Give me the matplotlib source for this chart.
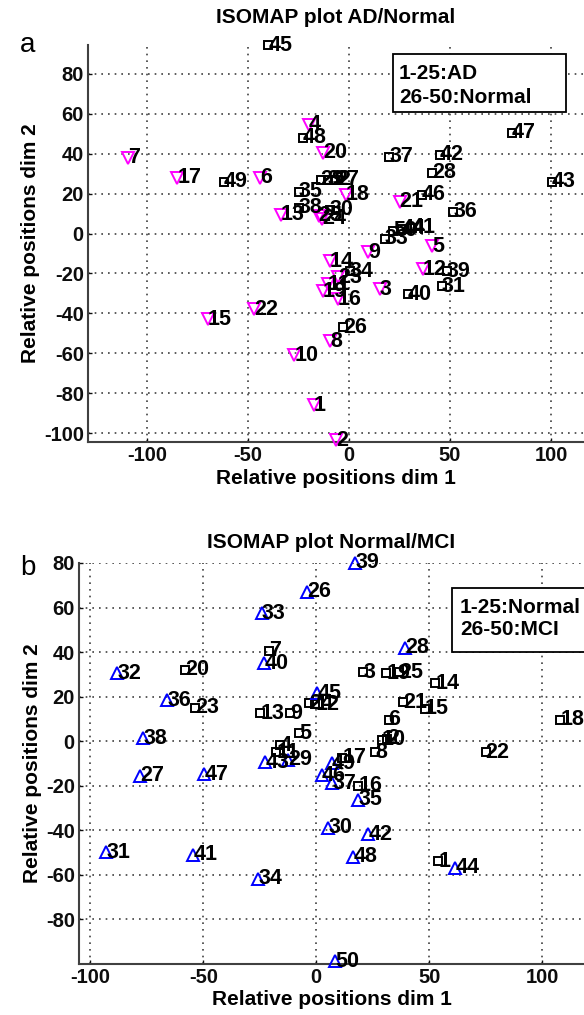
import numpy as np
import matplotlib
matplotlib.use("Agg")
import matplotlib.pyplot as plt
from matplotlib.patches import Rectangle

plt.rcParams["font.family"] = ["Liberation Sans", "DejaVu Sans"]
plt.rcParams["axes.unicode_minus"] = False

# panel a: AD (1-25) / Normal (26-50)
a_ad_x = [-17.3, -6.4, 15.3, -20, 41, -44, -109.4, -9.4, 9.4, -27, -10.4, 36.6, -33.7,
          -9.4, -70, -5.4, -85, -1.5, -13, -13, 25, -47, -5.4, -13.4, -15]
a_ad_y = [-86, -103.5, -28, 54.5, -6.5, 28, 38, -54, -9.5, -61, -25.5, -18, 9.5,
          -14, -43, -33, 28, 19.5, -29, 40.5, 16, -38, -22, 7.5, 9]
a_nor_x = [-3, -7, 41, -14, -9.4, 46, -10.4, 17.8, 0.5, -25, 51.5, 20, -25,
           48.5, 29, 31.2, 45, 100.5, 26.2, -40, 36, 80.5, -23, -62, 21.8]
a_nor_y = [-47, 27, 30.5, 27, 12, -26.5, 27, -2.5, -19, 21, 11, 38.5, 13,
           -19, -30.5, 3, 39.5, 26, 2.5, 94.5, 19.5, 50.5, 48, 26, 1.5]

# panel b: Normal (1-25) / MCI (26-50)
b_nor_x = [54, 31.4, 20.8, -16, -7.5, 32, -21, 26, -11.5, 29, -17.7, -0.4, -24.8,
           52.7, 48, 18.6, 11.5, 108, 31, -58, 38.5, 75, -53.5, -3, 36.7]
b_nor_y = [-54, 1, 31, -2, 3.5, 9.5, 40.5, -5, 12.5, 0.5, -5, 16.6, 12.5,
           26, 14.5, -20, -7.6, 9.5, 30.5, 32, 17.5, -5, 15, 17, 31]
b_mci_x = [-4, -78, 39.4, -12.4, 5.3, -93, -88, -24, -25.7, 18.6, -66, 7, -76.5,
           17.3, -23, -54.4, 23, -22.6, 61.5, 0.4, 2.6, -49.5, 16.4, 7, 8.4]
b_mci_y = [67, -15.7, 42, -8.5, -39, -50, 30.5, 57.5, -62, -26.5, 18.4, -19, 1.3,
           80, 35, -51, -42, -9.5, -57, 21.5, -15.3, -15, -52, -10, -99]

xticks = [-100, -50, 0, 50, 100]
a_yticks = list(range(-100, 81, 20))
b_yticks = list(range(-80, 81, 20))

W, H = 584, 1015


def px_axes(fig, left, right, top, bottom):
    return fig.add_axes([left / W, 1 - bottom / H, (right - left) / W, (bottom - top) / H])


def style_axes(ax, yticks):
    for s in ["top", "right"]:
        ax.spines[s].set_visible(False)
    for s in ["left", "bottom"]:
        ax.spines[s].set_linewidth(1.5)
        ax.spines[s].set_color("0.25")
    ax.set_xticks(xticks)
    ax.set_yticks(yticks)
    ax.tick_params(direction="in", length=3, width=1, pad=3, labelsize=14.5, colors="0.05")
    for lab in ax.get_xticklabels() + ax.get_yticklabels():
        lab.set_fontweight("bold")
    ax.grid(True, linestyle=(0, (1, 3)), linewidth=1.2, color="0.25")
    ax.set_axisbelow(True)


def scatter_labeled(ax, xs, ys, start, marker, color, ms):
    ax.plot(xs, ys, linestyle="none", marker=marker, markersize=ms,
            markerfacecolor="none", markeredgecolor=color, markeredgewidth=1.4,
            clip_on=False, zorder=3)
    for i, (x, y) in enumerate(zip(xs, ys)):
        ax.text(x, y, str(start + i), ha="left", va="center", fontsize=15.5,
                fontweight="bold", color="black", zorder=4, clip_on=False)


def info_box(ax, box, lines, tx, tys):
    x0, x1, y0, y1 = box
    ax.add_patch(Rectangle((x0, y0), x1 - x0, y1 - y0, transform=ax.transAxes,
                           facecolor="white", edgecolor="black", linewidth=1.3,
                           clip_on=False, zorder=5))
    for line, ty in zip(lines, tys):
        ax.text(tx, ty, line, transform=ax.transAxes, ha="left", va="center",
                fontsize=15, fontweight="bold", zorder=6)


def main():
    fig = plt.figure(figsize=(W / 100, H / 100), dpi=100)

    # panel a
    ax1 = px_axes(fig, 88, 584, 45, 442)
    ax1.set_xlim(-129.2, 116.3)
    ax1.set_ylim(-104.5, 94.5)
    style_axes(ax1, a_yticks)
    scatter_labeled(ax1, a_nor_x, a_nor_y, 26, "s", "black", 6)
    scatter_labeled(ax1, a_ad_x, a_ad_y, 1, "v", "#ff00ff", 8)
    ax1.set_title("ISOMAP plot AD/Normal", fontsize=15, fontweight="bold", pad=16)
    ax1.set_xlabel("Relative positions dim 1", fontsize=15, fontweight="bold", labelpad=3)
    ax1.set_ylabel("Relative positions dim 2", fontsize=15, fontweight="bold", labelpad=3)
    info_box(ax1, (0.615, 0.964, 0.831, 0.977), ["1-25:AD", "26-50:Normal"],
             0.627, [0.929, 0.869])
    fig.text(28 / W, 1 - 45 / H, "a", fontsize=20, ha="center", va="center")

    # panel b
    ax2 = px_axes(fig, 79, 584, 563, 964)
    ax2.set_xlim(-105, 118.5)
    ax2.set_ylim(-100.2, 80)
    style_axes(ax2, b_yticks)
    scatter_labeled(ax2, b_nor_x, b_nor_y, 1, "s", "black", 6)
    scatter_labeled(ax2, b_mci_x, b_mci_y, 26, "^", "#0000ff", 8)
    ax2.set_title("ISOMAP plot Normal/MCI", fontsize=15, fontweight="bold", pad=11)
    ax2.set_xlabel("Relative positions dim 1", fontsize=15, fontweight="bold", labelpad=2)
    ax2.set_ylabel("Relative positions dim 2", fontsize=15, fontweight="bold", labelpad=3)
    info_box(ax2, (0.739, 1.06, 0.778, 0.938), ["1-25:Normal", "26-50:MCI"],
             0.754, [0.890, 0.833])
    fig.text(28 / W, 1 - 568 / H, "b", fontsize=20, ha="center", va="center")

    fig.savefig("out.png", dpi=100)


if __name__ == "__main__":
    main()
